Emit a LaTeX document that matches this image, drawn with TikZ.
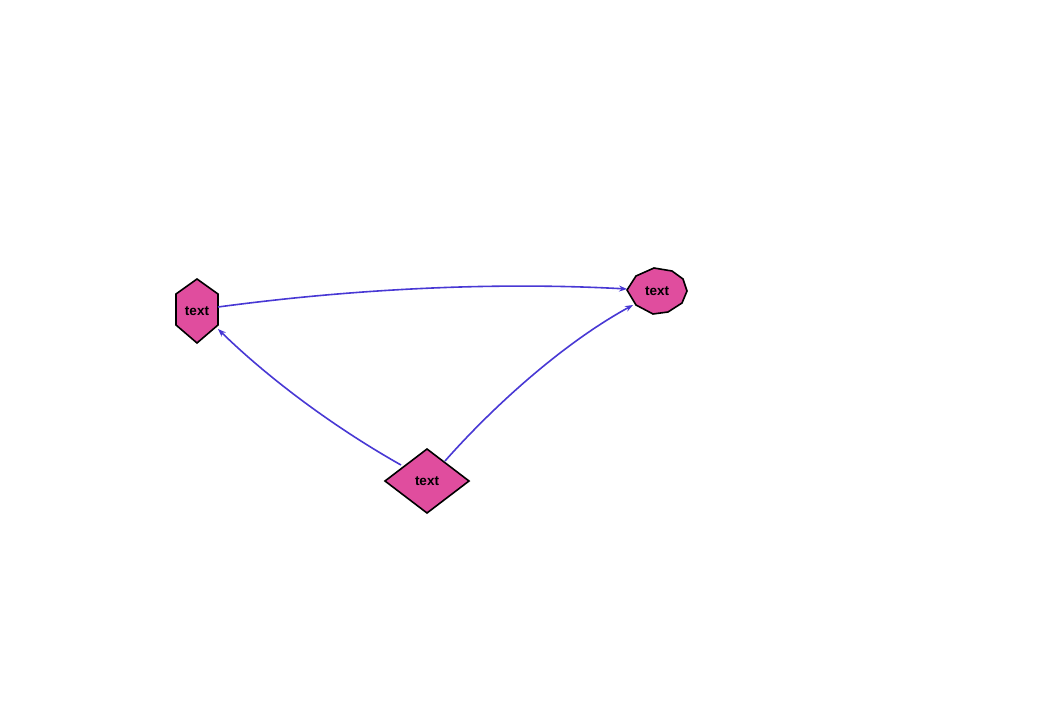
\documentclass[tikz,border=0pt]{standalone}
\usepackage{fontspec}
\setmainfont{Liberation Sans}
\usetikzlibrary{arrows.meta}
\definecolor{nodepink}{RGB}{224,77,158}
\definecolor{edgeblue}{RGB}{72,56,212}
\begin{document}
\begin{tikzpicture}[x=1pt,y=-1pt,
  holder/.style={inner sep=0pt, font=\bfseries\fontsize{13.5}{14}\selectfont},
  shapeline/.style={draw=black, line width=1.6pt, fill=nodepink, line join=miter},
  link/.style={draw=edgeblue, line width=1.6pt, -{Stealth[length=8pt,width=6pt]}}]
\useasboundingbox (0,0) rectangle (1054,720);

% node outlines, drawn around each node centre
\coordinate (hc) at (197,311);
\coordinate (oc) at (657,291);
\coordinate (dc) at (427,481);

\filldraw[shapeline] ([shift={(0,-32)}]hc) -- ([shift={(21,-17)}]hc) -- ([shift={(21,14)}]hc)
  -- ([shift={(0,32)}]hc) -- ([shift={(-21,14)}]hc) -- ([shift={(-21,-17)}]hc) -- cycle;
\filldraw[shapeline] ([shift={(-30,-1)}]oc) -- ([shift={(-21,-15)}]oc) -- ([shift={(-3,-23)}]oc)
  -- ([shift={(15,-20)}]oc) -- ([shift={(26,-12)}]oc) -- ([shift={(30,0)}]oc)
  -- ([shift={(25,12)}]oc) -- ([shift={(11,21)}]oc) -- ([shift={(-4,23)}]oc)
  -- ([shift={(-21,14)}]oc) -- cycle;
\filldraw[shapeline] ([shift={(0,-32)}]dc) -- ([shift={(42,0)}]dc) -- ([shift={(0,32)}]dc)
  -- ([shift={(-42,0)}]dc) -- cycle;

% labels
\node[holder] (hex) at (hc) {text};
\node[holder] (oct) at (oc) {text};
\node[holder] (dia) at (dc) {text};

% connectors
\draw[link] ([shift={(21,-4)}]hex.center) .. controls (360,288) and (500,282) .. ([shift={(-30,-2)}]oct.center);
\draw[link] ([shift={(-26,-16)}]dia.center) .. controls (330,425) and (265,375) .. ([shift={(21,18)}]hex.center);
\draw[link] ([shift={(18,-20)}]dia.center) .. controls (490,410) and (560,345) .. ([shift={(-24,14)}]oct.center);
\end{tikzpicture}
\end{document}
